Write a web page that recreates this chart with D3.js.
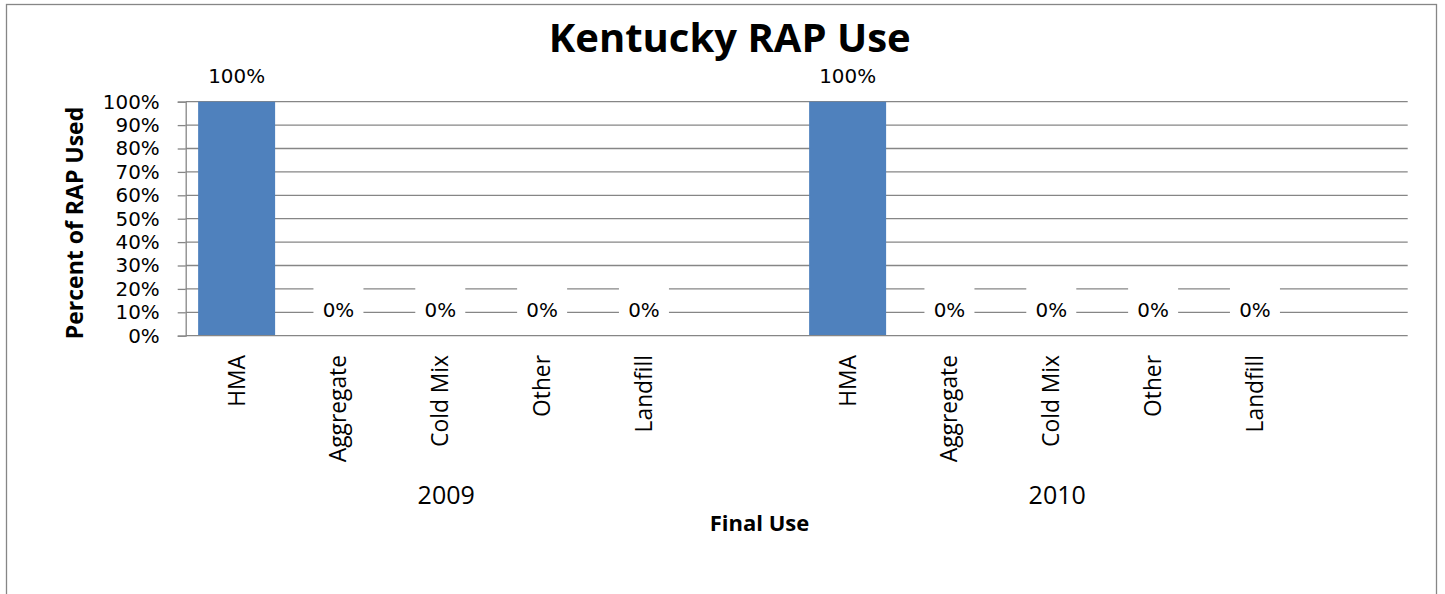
<!DOCTYPE html>
<html>
<head>
<meta charset="utf-8">
<script src="https://cdn.jsdelivr.net/npm/d3@7"></script>
<style>
  html, body { margin: 0; padding: 0; background: #ffffff; }
  svg { display: block; }
  text { font-family: "Open Sans", "Noto Sans", sans-serif; fill: #000; }
</style>
</head>
<body>
<svg id="chart" width="1445" height="594"></svg>
<script>
// ---- data ----
const years = ["2009", "2010"];
const categories = ["HMA", "Aggregate", "Cold Mix", "Other", "Landfill"];
const values2009 = [100, 0, 0, 0, 0];
const values2010 = [100, 0, 0, 0, 0];
const yTicks = [0, 10, 20, 30, 40, 50, 60, 70, 80, 90, 100];
const titleText = "Kentucky RAP Use";
const yTitle = "Percent of RAP Used";
const xTitle = "Final Use";

// ---- build slots: each year has its categories plus one empty slot ----
const seriesByYear = { "2009": values2009, "2010": values2010 };
const slots = [];
years.forEach(yr => {
  categories.forEach((c, i) => slots.push({ key: yr + "|" + c, year: yr, cat: c, value: seriesByYear[yr][i] }));
  slots.push({ key: yr + "|blank", year: yr, cat: "", value: null });
});
const bars = slots.filter(d => d.value !== null);

const svg = d3.select("#chart");
const gridColor = "#868686";
const numFont = "'DejaVu Sans', sans-serif";

// outer chart border
svg.append("rect")
  .attr("x", 6.5).attr("y", 4.5)
  .attr("width", 1430).attr("height", 620)
  .attr("fill", "#fff").attr("stroke", gridColor).attr("stroke-width", 1.3);

const plotLeft = 185.7, plotRight = 1407.7, plotTop = 101.7, plotBottom = 335.7;

const x = d3.scaleBand()
  .domain(slots.map(d => d.key))
  .range([plotLeft, plotRight])
  .paddingInner(0.244)
  .paddingOuter(0.122);

const y = d3.scaleLinear().domain([0, 100]).range([plotBottom, plotTop]);

// gridlines
svg.append("g")
  .selectAll("line")
  .data(yTicks.filter(t => t > 0))
  .join("line")
  .attr("x1", plotLeft).attr("x2", plotRight)
  .attr("y1", d => y(d)).attr("y2", d => y(d))
  .attr("stroke", gridColor).attr("stroke-width", 1.3);

// y axis
const yAxis = svg.append("g")
  .attr("transform", `translate(${plotLeft},0)`)
  .call(d3.axisLeft(y).tickValues(yTicks).tickSize(8).tickPadding(18).tickFormat(d => d + "%"));
yAxis.select(".domain").attr("stroke", gridColor).attr("stroke-width", 1.3);
yAxis.selectAll(".tick line").attr("stroke", gridColor).attr("stroke-width", 1.3);
yAxis.selectAll(".tick text")
  .style("font-family", numFont)
  .style("font-size", "19.9px")
  .attr("fill", "#000");

// bars
svg.append("g")
  .selectAll("rect")
  .data(bars)
  .join("rect")
  .attr("x", d => x(d.key))
  .attr("width", x.bandwidth())
  .attr("y", d => y(d.value))
  .attr("height", d => y(0) - y(d.value))
  .attr("fill", "#4F81BD");

// x axis line
svg.append("line")
  .attr("x1", plotLeft).attr("x2", plotRight)
  .attr("y1", y(0)).attr("y2", y(0))
  .attr("stroke", gridColor).attr("stroke-width", 1.3);

// data labels with white boxes
const labelG = svg.append("g");
const lbl = labelG.selectAll("g").data(bars).join("g")
  .attr("transform", d => `translate(${x(d.key) + x.bandwidth() / 2},${y(d.value) - 19})`);
lbl.filter(d => d.value === 0).append("rect")
  .attr("x", -25).attr("y", -30).attr("width", 50).attr("height", 36)
  .attr("fill", "#fff");
lbl.append("text")
  .attr("text-anchor", "middle")
  .style("font-family", numFont)
  .style("font-size", "19.9px")
  .text(d => d.value + "%");

// category labels (rotated)
svg.append("g")
  .selectAll("text")
  .data(slots.filter(d => d.cat !== ""))
  .join("text")
  .attr("transform", d => `translate(${x(d.key) + x.bandwidth() / 2},355) rotate(-90)`)
  .attr("text-anchor", "end")
  .attr("dy", "0.35em")
  .style("font-size", "22.8px")
  .text(d => d.cat);

// year labels
svg.append("g")
  .selectAll("text")
  .data(years)
  .join("text")
  .attr("x", yr => {
    const ks = slots.filter(s => s.year === yr).map(s => x(s.key) + x.bandwidth() / 2);
    return (ks[0] + ks[ks.length - 1]) / 2 - 45;
  })
  .attr("y", 504.3)
  .attr("text-anchor", "middle")
  .style("font-size", "25px")
  .text(d => d);

// axis titles
svg.append("text")
  .attr("x", 759.5).attr("y", 530.7)
  .attr("text-anchor", "middle")
  .style("font-size", "22px").style("font-weight", "700")
  .text(xTitle);

svg.append("text")
  .attr("transform", "translate(83.3,223) rotate(-90)")
  .attr("text-anchor", "middle")
  .style("font-size", "23px").style("font-weight", "700")
  .text(yTitle);

// chart title
svg.append("text")
  .attr("x", 729.7).attr("y", 51.5)
  .attr("text-anchor", "middle")
  .style("font-size", "40px").style("font-weight", "700")
  .text(titleText);
</script>
</body>
</html>
